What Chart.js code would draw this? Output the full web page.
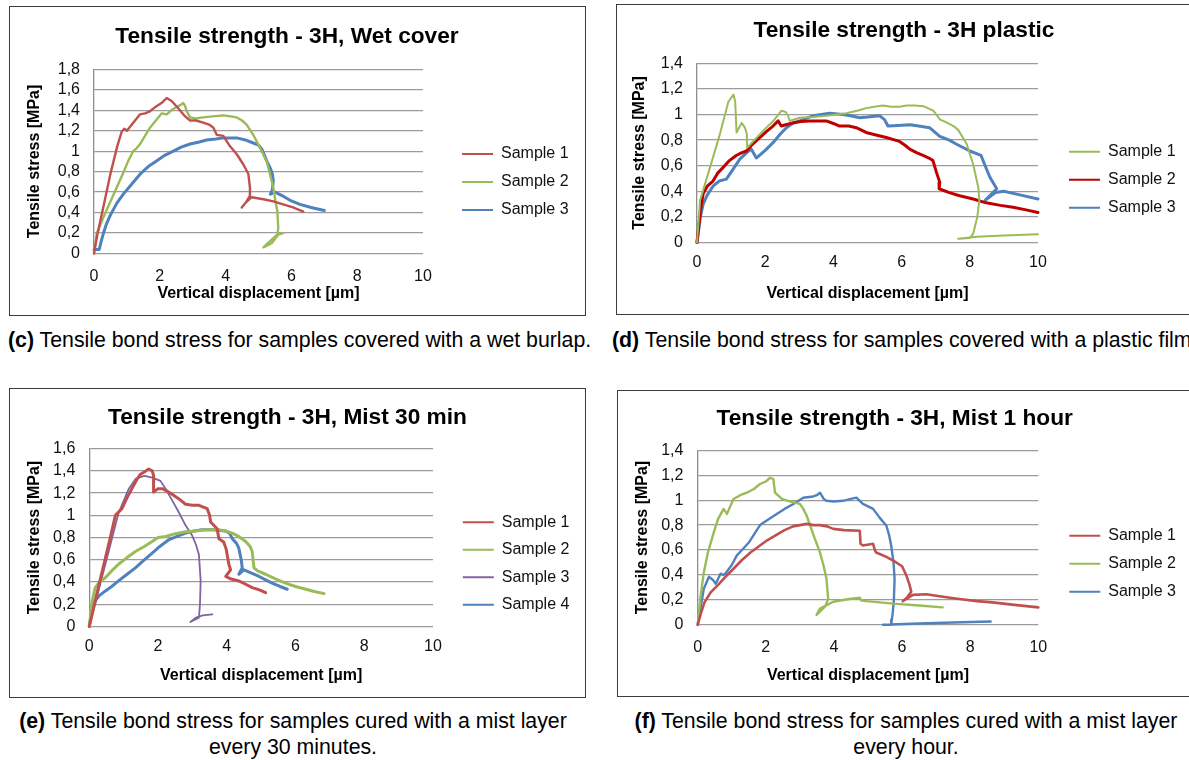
<!DOCTYPE html>
<html>
<head>
<meta charset="utf-8">
<script src="https://cdn.jsdelivr.net/npm/chart.js@4.4.1/dist/chart.umd.min.js"></script>
<style>
  html, body { margin: 0; padding: 0; background: #fff; }
  body { width: 1189px; height: 760px; position: relative; overflow: hidden;
         font-family: "Liberation Sans", Arial, sans-serif; }
  .panel { position: absolute; box-sizing: border-box; border: 1px solid #3c3c3c; background: #fff; }
  .panel canvas { position: absolute; left: 0; top: 0; }
  .cap { position: absolute; font-size: 21.3px; line-height: 26px; color: #000; white-space: nowrap; }
  .cap.center { text-align: center; }
</style>
</head>
<body>

<div class="panel" style="left:9px; top:6px; width:577px; height:310px;"><canvas id="wet" width="575" height="308"></canvas></div>
<div class="panel" style="left:616px; top:4px; width:576px; height:311px;"><canvas id="plastic" width="574" height="309"></canvas></div>
<div class="panel" style="left:9px; top:388px; width:577px; height:310px;"><canvas id="mist30" width="575" height="308"></canvas></div>
<div class="panel" style="left:617px; top:390px; width:575px; height:307px;"><canvas id="mist60" width="573" height="305"></canvas></div>

<div class="cap" style="left:8px; top:327px;"><b>(c)</b> Tensile bond stress for samples covered with a wet burlap.</div>
<div class="cap" style="left:612px; top:327px;"><b>(d)</b> Tensile bond stress for samples covered with a plastic film</div>
<div class="cap center" style="left:0px; top:708px; width:586px;"><b>(e)</b> Tensile bond stress for samples cured with a mist layer<br>every 30 minutes.</div>
<div class="cap center" style="left:617px; top:708px; width:578px;"><b>(f)</b> Tensile bond stress for samples cured with a mist layer<br>every hour.</div>

<script>
// tick labels
const xTickLabels = ['0', '2', '4', '6', '8', '10'];
const yTicks18 = ['0', '0,2', '0,4', '0,6', '0,8', '1', '1,2', '1,4', '1,6', '1,8'];
const yTicks16 = ['0', '0,2', '0,4', '0,6', '0,8', '1', '1,2', '1,4', '1,6'];
const yTicks14 = ['0', '0,2', '0,4', '0,6', '0,8', '1', '1,2', '1,4'];

// (c) wet burlap
const wetS1x = [0, 0.1, 0.3, 0.5, 0.7, 0.84, 0.92, 1.0, 1.2, 1.4, 1.55, 1.7, 1.9, 2.05, 2.21, 2.36, 2.56, 2.77, 2.92, 3.1, 3.32, 3.5, 3.63, 3.73, 3.93, 4.13, 4.34, 4.54, 4.69, 4.74, 4.74, 4.62, 4.49, 4.62, 4.79, 5.15, 5.45, 5.75, 6.05, 6.36];
const wetS1y = [0, 0.18, 0.48, 0.78, 1.04, 1.19, 1.22, 1.2, 1.28, 1.36, 1.37, 1.39, 1.44, 1.47, 1.52, 1.49, 1.42, 1.34, 1.30, 1.30, 1.28, 1.26, 1.23, 1.16, 1.15, 1.05, 0.97, 0.87, 0.78, 0.645, 0.565, 0.5, 0.45, 0.5, 0.55, 0.53, 0.51, 0.48, 0.45, 0.41];
const wetS2x = [0, 0.08, 0.28, 0.49, 0.69, 0.89, 1.04, 1.19, 1.3, 1.4, 1.55, 1.7, 1.88, 2.06, 2.21, 2.35, 2.5, 2.62, 2.71, 2.76, 2.82, 2.92, 3.1, 3.32, 3.6, 3.93, 4.15, 4.34, 4.5, 4.64, 4.84, 5.05, 5.25, 5.45, 5.52, 5.57, 5.6, 5.57, 5.4, 5.15, 5.35, 5.55, 5.75];
const wetS2y = [0, 0.19, 0.35, 0.50, 0.645, 0.79, 0.905, 1.0, 1.03, 1.07, 1.15, 1.23, 1.3, 1.37, 1.36, 1.40, 1.43, 1.45, 1.47, 1.45, 1.39, 1.33, 1.32, 1.33, 1.34, 1.35, 1.34, 1.33, 1.30, 1.26, 1.16, 1.03, 0.90, 0.645, 0.5, 0.42, 0.25, 0.17, 0.1, 0.06, 0.12, 0.18, 0.2];
const wetS3x = [0, 0.16, 0.22, 0.28, 0.38, 0.49, 0.69, 0.89, 1.15, 1.40, 1.65, 1.90, 2.15, 2.41, 2.65, 2.92, 3.2, 3.42, 3.7, 3.93, 4.15, 4.34, 4.6, 4.84, 5.0, 5.10, 5.25, 5.35, 5.42, 5.45, 5.42, 5.36, 5.5, 5.75, 5.96, 6.26, 6.6, 7.0];
const wetS3y = [0.04, 0.04, 0.12, 0.19, 0.29, 0.37, 0.49, 0.58, 0.68, 0.775, 0.85, 0.905, 0.96, 1.0, 1.04, 1.07, 1.09, 1.11, 1.12, 1.13, 1.13, 1.13, 1.11, 1.08, 1.06, 1.02, 0.905, 0.84, 0.78, 0.71, 0.62, 0.58, 0.6, 0.56, 0.52, 0.48, 0.45, 0.42];

// (d) plastic film
const plS1x = [0, 0.09, 0.38, 0.67, 0.92, 1.07, 1.12, 1.16, 1.31, 1.4, 1.46, 1.47, 1.75, 2.0, 2.24, 2.48, 2.6, 2.67, 2.72, 3.01, 3.4, 3.79, 4.1, 4.38, 4.7, 4.96, 5.2, 5.45, 5.7, 5.94, 6.15, 6.38, 6.64, 6.93, 7.13, 7.3, 7.52, 7.66, 7.91, 8.1, 8.25, 8.28, 8.22, 8.1, 8.0, 7.66, 8.2, 9.0, 10.0];
const plS1y = [0, 0.33, 0.585, 0.845, 1.10, 1.156, 1.1, 0.86, 0.935, 0.9, 0.85, 0.74, 0.82, 0.89, 0.95, 1.03, 1.02, 0.99, 0.95, 0.975, 0.98, 0.99, 1.0, 1.01, 1.03, 1.05, 1.06, 1.07, 1.06, 1.06, 1.07, 1.07, 1.065, 1.03, 0.96, 0.94, 0.91, 0.88, 0.77, 0.61, 0.43, 0.33, 0.20, 0.07, 0.035, 0.03, 0.045, 0.055, 0.065];
const plS2x = [0, 0.1, 0.18, 0.3, 0.47, 0.6, 0.76, 0.95, 1.15, 1.3, 1.45, 1.6, 1.84, 2.05, 2.23, 2.38, 2.47, 2.6, 2.82, 3.05, 3.3, 3.55, 3.79, 4.0, 4.18, 4.45, 4.67, 4.96, 5.25, 5.55, 5.94, 6.1, 6.24, 6.45, 6.63, 6.8, 6.92, 7.02, 7.12, 7.1, 7.4, 7.7, 8.1, 8.48, 8.9, 9.27, 9.65, 10.0];
const plS2y = [0, 0.25, 0.38, 0.44, 0.48, 0.54, 0.585, 0.64, 0.68, 0.7, 0.715, 0.76, 0.82, 0.87, 0.91, 0.95, 0.91, 0.92, 0.935, 0.945, 0.95, 0.95, 0.95, 0.93, 0.91, 0.91, 0.897, 0.86, 0.84, 0.82, 0.79, 0.76, 0.73, 0.7, 0.68, 0.66, 0.64, 0.55, 0.47, 0.42, 0.39, 0.365, 0.34, 0.31, 0.29, 0.275, 0.255, 0.235];
const plS3x = [0, 0.1, 0.18, 0.3, 0.47, 0.65, 0.86, 1.05, 1.25, 1.45, 1.59, 1.74, 2.0, 2.23, 2.45, 2.62, 2.8, 3.01, 3.2, 3.4, 3.65, 3.89, 4.28, 4.5, 4.77, 5.0, 5.36, 5.5, 5.6, 5.9, 6.24, 6.5, 6.82, 7.12, 7.4, 7.6, 8.0, 8.33, 8.45, 8.59, 8.79, 8.45, 8.75, 9.0, 9.5, 10.0];
const plS3y = [0, 0.2, 0.3, 0.37, 0.44, 0.48, 0.495, 0.57, 0.65, 0.7, 0.73, 0.66, 0.72, 0.78, 0.85, 0.897, 0.93, 0.95, 0.97, 0.99, 1.0, 1.01, 1.0, 0.99, 0.975, 0.98, 0.99, 0.96, 0.91, 0.915, 0.92, 0.91, 0.897, 0.83, 0.8, 0.77, 0.715, 0.68, 0.6, 0.51, 0.42, 0.33, 0.39, 0.40, 0.37, 0.34];

// (e) mist every 30 minutes
const m30S1x = [0, 0.3, 0.58, 0.76, 0.95, 1.1, 1.24, 1.38, 1.49, 1.6, 1.73, 1.83, 1.87, 1.87, 2.0, 2.12, 2.25, 2.41, 2.6, 2.8, 3.0, 3.19, 3.43, 3.5, 3.53, 3.72, 3.77, 3.91, 3.98, 4.06, 4.11, 3.97, 4.1, 4.35, 4.55, 4.74, 4.95, 5.13];
const m30S1y = [0, 0.4, 0.76, 1.0, 1.06, 1.16, 1.24, 1.32, 1.37, 1.39, 1.416, 1.40, 1.36, 1.21, 1.24, 1.24, 1.22, 1.19, 1.15, 1.10, 1.09, 1.09, 1.06, 1.0, 0.94, 0.88, 0.79, 0.76, 0.7, 0.56, 0.51, 0.45, 0.43, 0.41, 0.38, 0.35, 0.33, 0.305];
const m30S2x = [0, 0.08, 0.17, 0.3, 0.47, 0.65, 0.85, 1.1, 1.34, 1.6, 1.83, 2.0, 2.22, 2.5, 2.8, 3.1, 3.38, 3.6, 3.77, 3.95, 4.16, 4.35, 4.55, 4.68, 4.74, 4.79, 4.9, 5.13, 5.4, 5.71, 6.0, 6.3, 6.55, 6.83];
const m30S2y = [0, 0.22, 0.35, 0.4, 0.44, 0.5, 0.56, 0.62, 0.675, 0.72, 0.765, 0.8, 0.81, 0.835, 0.853, 0.86, 0.87, 0.87, 0.87, 0.86, 0.84, 0.81, 0.765, 0.72, 0.675, 0.527, 0.5, 0.47, 0.43, 0.39, 0.36, 0.335, 0.315, 0.296];
const m30S3x = [0, 0.3, 0.6, 0.85, 1.15, 1.35, 1.6, 1.83, 2.07, 2.22, 2.41, 2.6, 2.8, 2.99, 3.1, 3.19, 3.24, 3.22, 3.19, 2.94, 3.1, 3.3, 3.58];
const m30S3y = [0, 0.36, 0.72, 1.02, 1.24, 1.33, 1.355, 1.34, 1.31, 1.24, 1.135, 1.03, 0.91, 0.82, 0.74, 0.645, 0.41, 0.2, 0.08, 0.04, 0.08, 0.1, 0.11];
const m30S4x = [0, 0.08, 0.17, 0.3, 0.47, 0.65, 0.85, 1.1, 1.34, 1.6, 1.83, 2.05, 2.31, 2.55, 2.8, 3.05, 3.28, 3.6, 3.96, 4.08, 4.16, 4.28, 4.35, 4.42, 4.45, 4.35, 4.5, 4.72, 4.94, 5.13, 5.32, 5.55, 5.76];
const m30S4y = [0, 0.14, 0.23, 0.28, 0.32, 0.36, 0.41, 0.47, 0.527, 0.6, 0.66, 0.72, 0.78, 0.81, 0.84, 0.86, 0.87, 0.87, 0.86, 0.84, 0.79, 0.75, 0.705, 0.6, 0.527, 0.47, 0.51, 0.48, 0.45, 0.42, 0.39, 0.36, 0.335];

// (f) mist every hour
const m60S1x = [0, 0.09, 0.2, 0.38, 0.6, 0.8, 1.05, 1.3, 1.55, 1.8, 2.05, 2.3, 2.55, 2.8, 3.0, 3.2, 3.4, 3.59, 3.8, 3.98, 4.3, 4.76, 4.78, 4.85, 5.15, 5.2, 5.24, 5.54, 5.83, 6.0, 6.12, 6.22, 6.27, 6.15, 6.02, 6.32, 6.71, 7.2, 7.68, 8.2, 8.65, 9.3, 10.0];
const m60S1y = [0, 0.09, 0.18, 0.26, 0.32, 0.38, 0.45, 0.52, 0.58, 0.63, 0.68, 0.72, 0.76, 0.79, 0.80, 0.81, 0.80, 0.80, 0.79, 0.77, 0.76, 0.755, 0.65, 0.636, 0.65, 0.6, 0.58, 0.545, 0.50, 0.47, 0.40, 0.32, 0.265, 0.22, 0.19, 0.24, 0.245, 0.225, 0.207, 0.19, 0.18, 0.16, 0.14];
const m60S2x = [0, 0.08, 0.18, 0.3, 0.47, 0.6, 0.76, 0.86, 1.05, 1.25, 1.44, 1.65, 1.83, 2.0, 2.13, 2.22, 2.27, 2.47, 2.7, 3.0, 3.1, 3.2, 3.44, 3.59, 3.7, 3.78, 3.83, 3.75, 3.49, 3.59, 3.98, 4.4, 4.76, 4.8, 4.95, 5.35, 5.73, 6.5, 7.19];
const m60S2y = [0, 0.22, 0.42, 0.58, 0.74, 0.85, 0.93, 0.89, 1.01, 1.04, 1.06, 1.09, 1.13, 1.15, 1.18, 1.17, 1.06, 1.01, 0.99, 0.97, 0.93, 0.875, 0.69, 0.58, 0.47, 0.37, 0.21, 0.15, 0.08, 0.13, 0.185, 0.205, 0.217, 0.195, 0.19, 0.18, 0.17, 0.155, 0.14];
const m60S3x = [0, 0.1, 0.18, 0.33, 0.45, 0.53, 0.6, 0.67, 0.75, 0.81, 1.0, 1.15, 1.3, 1.5, 1.83, 2.05, 2.32, 2.55, 2.81, 3.1, 3.39, 3.5, 3.59, 3.7, 3.78, 4.0, 4.27, 4.5, 4.66, 4.85, 5.0, 5.15, 5.34, 5.54, 5.62, 5.68, 5.75, 5.78, 5.76, 5.73, 5.7, 5.68, 5.44, 6.5, 7.5, 8.6];
const m60S3y = [0, 0.16, 0.29, 0.385, 0.36, 0.33, 0.37, 0.41, 0.40, 0.41, 0.48, 0.557, 0.6, 0.66, 0.80, 0.84, 0.89, 0.93, 0.97, 1.02, 1.03, 1.04, 1.06, 1.01, 0.995, 0.99, 0.995, 1.01, 1.02, 0.97, 0.95, 0.93, 0.86, 0.795, 0.72, 0.636, 0.5, 0.37, 0.2, 0.106, 0.04, 0.0, 0.0, 0.01, 0.018, 0.027];

const RED = '#C0504D', GREEN = '#9BBB59', BLUE = '#4F81BD', PURPLE = '#8064A2', DARKRED = '#C00000';

Chart.defaults.font.family = '"Liberation Sans", Arial, sans-serif';
Chart.defaults.color = '#111';

// moves the title and the legend to fixed spots once the layout is done
const placeBlocks = {
  id: 'placeBlocks',
  afterLayout(chart, args, opts) {
    const t = chart.titleBlock;
    if (t && opts.titleX != null) {
      const half = (t.right - t.left) / 2;
      t.left = opts.titleX - half;
      t.right = opts.titleX + half;
    }
    const lg = chart.legend;
    if (lg && opts.legendX != null) {
      lg.left = opts.legendX;
      lg.right = chart.width + 100;
      lg.top = opts.legendY;
      lg.bottom = chart.height + 100;
    }
  }
};

function makeChart(id, title, yMax, yLabels, series, box) {
  return new Chart(document.getElementById(id), {
    type: 'scatter',
    data: {
      datasets: series.map(s => ({
        label: s.label,
        data: s.x.map((x, i) => ({ x: x, y: s.y[i] })),
        showLine: true,
        borderColor: s.color,
        backgroundColor: s.color,
        borderWidth: s.width,
        borderJoinStyle: 'round',
        borderCapStyle: 'round',
        pointRadius: 0,
        pointHoverRadius: 0,
        pointBorderWidth: 2,
        tension: 0,
        clip: false
      }))
    },
    plugins: [placeBlocks],
    options: {
      responsive: false,
      animation: false,
      devicePixelRatio: 1,
      events: [],
      layout: { padding: box.pad },
      plugins: {
        tooltip: { enabled: false },
        title: {
          display: true,
          text: title,
          color: '#000',
          font: { size: 22.7, weight: 'bold', lineHeight: 1.2 },
          padding: box.titlePad
        },
        legend: {
          position: 'right',
          align: 'start',
          maxWidth: 110,
          labels: {
            usePointStyle: true,
            pointStyle: 'line',
            pointStyleWidth: 31,
            padding: box.legendGap,
            color: '#111',
            font: { size: 16, lineHeight: 1.2 }
          }
        },
        placeBlocks: { titleX: box.titleX, legendX: box.legendX, legendY: box.legendY }
      },
      scales: {
        x: {
          type: 'linear',
          min: 0,
          max: 10,
          afterFit: s => { s.height = box.xHeight; },
          ticks: {
            stepSize: 2,
            autoSkip: false,
            maxRotation: 0,
            padding: box.xTickPad,
            color: '#111',
            font: { size: 16, lineHeight: 1.2 },
            callback: (v, i) => xTickLabels[i]
          },
          grid: { display: false, drawTicks: false },
          border: { display: false },
          title: {
            display: true,
            text: 'Vertical displacement [µm]',
            color: '#000',
            font: { size: 16, weight: 'bold', lineHeight: 1.2 },
            padding: 0
          }
        },
        y: {
          type: 'linear',
          min: 0,
          max: yMax,
          afterFit: s => { s.width = box.yWidth; },
          ticks: {
            stepSize: 0.2,
            autoSkip: false,
            padding: box.yTickPad,
            color: '#111',
            font: { size: 16, lineHeight: 1.2 },
            callback: (v, i) => yLabels[i]
          },
          grid: { color: '#9c9c9c', lineWidth: 1.3, drawTicks: false },
          border: { display: true, color: '#8e8e8e', width: 1.3 },
          title: {
            display: true,
            text: 'Tensile stress [MPa]',
            color: '#000',
            font: { size: 16, weight: 'bold', lineHeight: 1.2 },
            padding: 0
          }
        }
      }
    }
  });
}

makeChart('wet', 'Tensile strength - 3H, Wet cover', 1.8, yTicks18, [
  { label: 'Sample 1', x: wetS1x, y: wetS1y, color: RED, width: 2.4 },
  { label: 'Sample 2', x: wetS2x, y: wetS2y, color: GREEN, width: 2.4 },
  { label: 'Sample 3', x: wetS3x, y: wetS3y, color: BLUE, width: 3 }
], { pad: { left: 15.4, right: 52, top: 0.5, bottom: 11.4 }, yWidth: 68.6, xHeight: 50.1,
     titlePad: { top: 15.8, bottom: 18.8 }, titleX: 277, xTickPad: 13.4, yTickPad: 14,
     legendX: 440, legendY: 127, legendGap: 12 });

makeChart('plastic', 'Tensile strength - 3H plastic', 1.4, yTicks14, [
  { label: 'Sample 1', x: plS1x, y: plS1y, color: GREEN, width: 2 },
  { label: 'Sample 2', x: plS2x, y: plS2y, color: DARKRED, width: 3 },
  { label: 'Sample 3', x: plS3x, y: plS3y, color: BLUE, width: 3 }
], { pad: { left: 13.4, right: 43, top: 0.5, bottom: 11.2 }, yWidth: 66.6, xHeight: 60.3,
     titlePad: { top: 11.8, bottom: 18.8 }, titleX: 287, xTickPad: 10.4, yTickPad: 14,
     legendX: 440, legendY: 126.7, legendGap: 12 });

makeChart('mist30', 'Tensile strength - 3H, Mist 30 min', 1.6, yTicks16, [
  { label: 'Sample 1', x: m30S1x, y: m30S1y, color: RED, width: 3 },
  { label: 'Sample 2', x: m30S2x, y: m30S2y, color: GREEN, width: 3 },
  { label: 'Sample 3', x: m30S3x, y: m30S3y, color: PURPLE, width: 1.8 },
  { label: 'Sample 4', x: m30S4x, y: m30S4y, color: BLUE, width: 3 }
], { pad: { left: 15.4, right: 42, top: 0.5, bottom: 11.9 }, yWidth: 63.9, xHeight: 58.6,
     titlePad: { top: 14.5, bottom: 17.4 }, titleX: 277.5, xTickPad: 10.4, yTickPad: 14,
     legendX: 441.3, legendY: 113.7, legendGap: 11.5 });

makeChart('mist60', 'Tensile strength - 3H, Mist 1 hour', 1.4, yTicks14, [
  { label: 'Sample 1', x: m60S1x, y: m60S1y, color: RED, width: 2.6 },
  { label: 'Sample 2', x: m60S2x, y: m60S2y, color: GREEN, width: 2.4 },
  { label: 'Sample 3', x: m60S3x, y: m60S3y, color: BLUE, width: 2.4 }
], { pad: { left: 15.4, right: 42.7, top: 0.5, bottom: 10.9 }, yWidth: 64.3, xHeight: 60.3,
     titlePad: { top: 14.1, bottom: 17.5 }, titleX: 276.7, xTickPad: 12.8, yTickPad: 14.3,
     legendX: 439.3, legendY: 124.7, legendGap: 12 });
</script>
</body>
</html>
